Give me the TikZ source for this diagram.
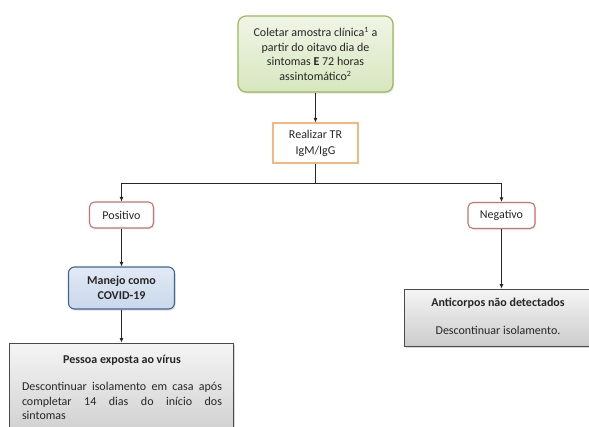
\documentclass[tikz,border=0pt]{standalone}
\usepackage{fontspec}
\setmainfont{Carlito}
\usetikzlibrary{arrows.meta,shadows}
\definecolor{greenB}{HTML}{9BBB59}
\definecolor{greenT}{HTML}{F0F5E6}
\definecolor{greenD}{HTML}{D8E6BF}
\definecolor{orangeB}{HTML}{F5B77F}
\definecolor{redB}{HTML}{C9716E}
\definecolor{blueB}{HTML}{41658F}
\definecolor{blueT}{HTML}{E2EAF4}
\definecolor{blueD}{HTML}{C9D8EC}
\definecolor{grayB}{HTML}{4A4A4A}
\definecolor{txt}{HTML}{262626}
\begin{document}
\begin{tikzpicture}[x=1pt,y=-1pt,
  every node/.style={font=\fontsize{12}{14.5}\selectfont, text=txt, inner sep=0pt, align=center},
  startbox/.style={draw=greenB, line width=1.2pt, rounded corners=8pt, top color=greenT, bottom color=greenD,
     minimum width=155pt, minimum height=76pt, drop shadow={opacity=0.25, shadow xshift=1pt, shadow yshift=-1.5pt}},
  testbox/.style={draw=orangeB, line width=1.1pt, fill=white, minimum width=85pt, minimum height=40pt,
     drop shadow={opacity=0.2, shadow xshift=1pt, shadow yshift=-1pt}},
  resbox/.style={draw=redB, line width=1.1pt, rounded corners=5pt, fill=white, minimum height=26pt,
     drop shadow={opacity=0.2, shadow xshift=1pt, shadow yshift=-1pt}},
  manbox/.style={draw=blueB, line width=1.1pt, rounded corners=6pt, top color=blueT, bottom color=blueD,
     minimum width=106pt, minimum height=42pt, drop shadow={opacity=0.25, shadow xshift=1pt, shadow yshift=-1.5pt}},
  finalbox/.style={draw=grayB, line width=0.9pt, top color=white!96!black, bottom color=white!80!black,
     drop shadow={opacity=0.3, shadow xshift=1.5pt, shadow yshift=-2pt}},
  conn/.style={draw=black!85, line width=0.8pt},
  arr/.style={conn, -{Latex[length=4.5pt,width=4pt]}}
]
\useasboundingbox (0,0) rectangle (589,426);
\clip (0,0) rectangle (589,426);
\fill[white] (0,0) rectangle (589,426);

\node[startbox] (start) at (315.5,54) {Coletar amostra clínica\textsuperscript{1} a\\ partir do oitavo dia de\\ sintomas \textbf{E} 72 horas\\ assintomático\textsuperscript{2}};
\node[testbox] (test) at (315.5,143) {Realizar TR\\[1.5pt] IgM/IgG};
\node[resbox, minimum width=64pt] (pos) at (121.5,215) {Positivo};
\node[resbox, minimum width=67pt] (neg) at (501.5,215.5) {Negativo};
\node[manbox] (man) at (121.5,288) {\textbf{Manejo como}\\ \textbf{COVID-19}};
\node[finalbox, minimum width=190pt, minimum height=57pt] (anti) at (499,317.5) {};
\node (antit) at (498,303) {\textbf{Anticorpos não detectados}};
\node (antib) at (498,330) {Descontinuar isolamento.};
\node[finalbox, minimum width=224pt, minimum height=100pt] (pes) at (121,393) {};
\node (pest) at (122,360) {\textbf{Pessoa exposta ao vírus}};
\node[text width=200pt, align=justify, anchor=north] (pesb) at (122,382) {\hyphenpenalty=10000 Descontinuar isolamento em casa após\linebreak completar 14 dias do início dos\linebreak sintomas};

\coordinate (split) at (315.5,183);
\draw[arr] (start.south) -- (test.north);
\draw[conn] (test.south) -- (split);
\draw[arr] (split) -| (pos.north);
\draw[arr] (split) -| (neg.north);
\draw[arr] (pos.south) -- (man.north);
\draw[arr] (neg.south) -- (anti.north -| neg.south);
\draw[arr] (man.south) -- (pes.north -| man.south);
\end{tikzpicture}
\end{document}
